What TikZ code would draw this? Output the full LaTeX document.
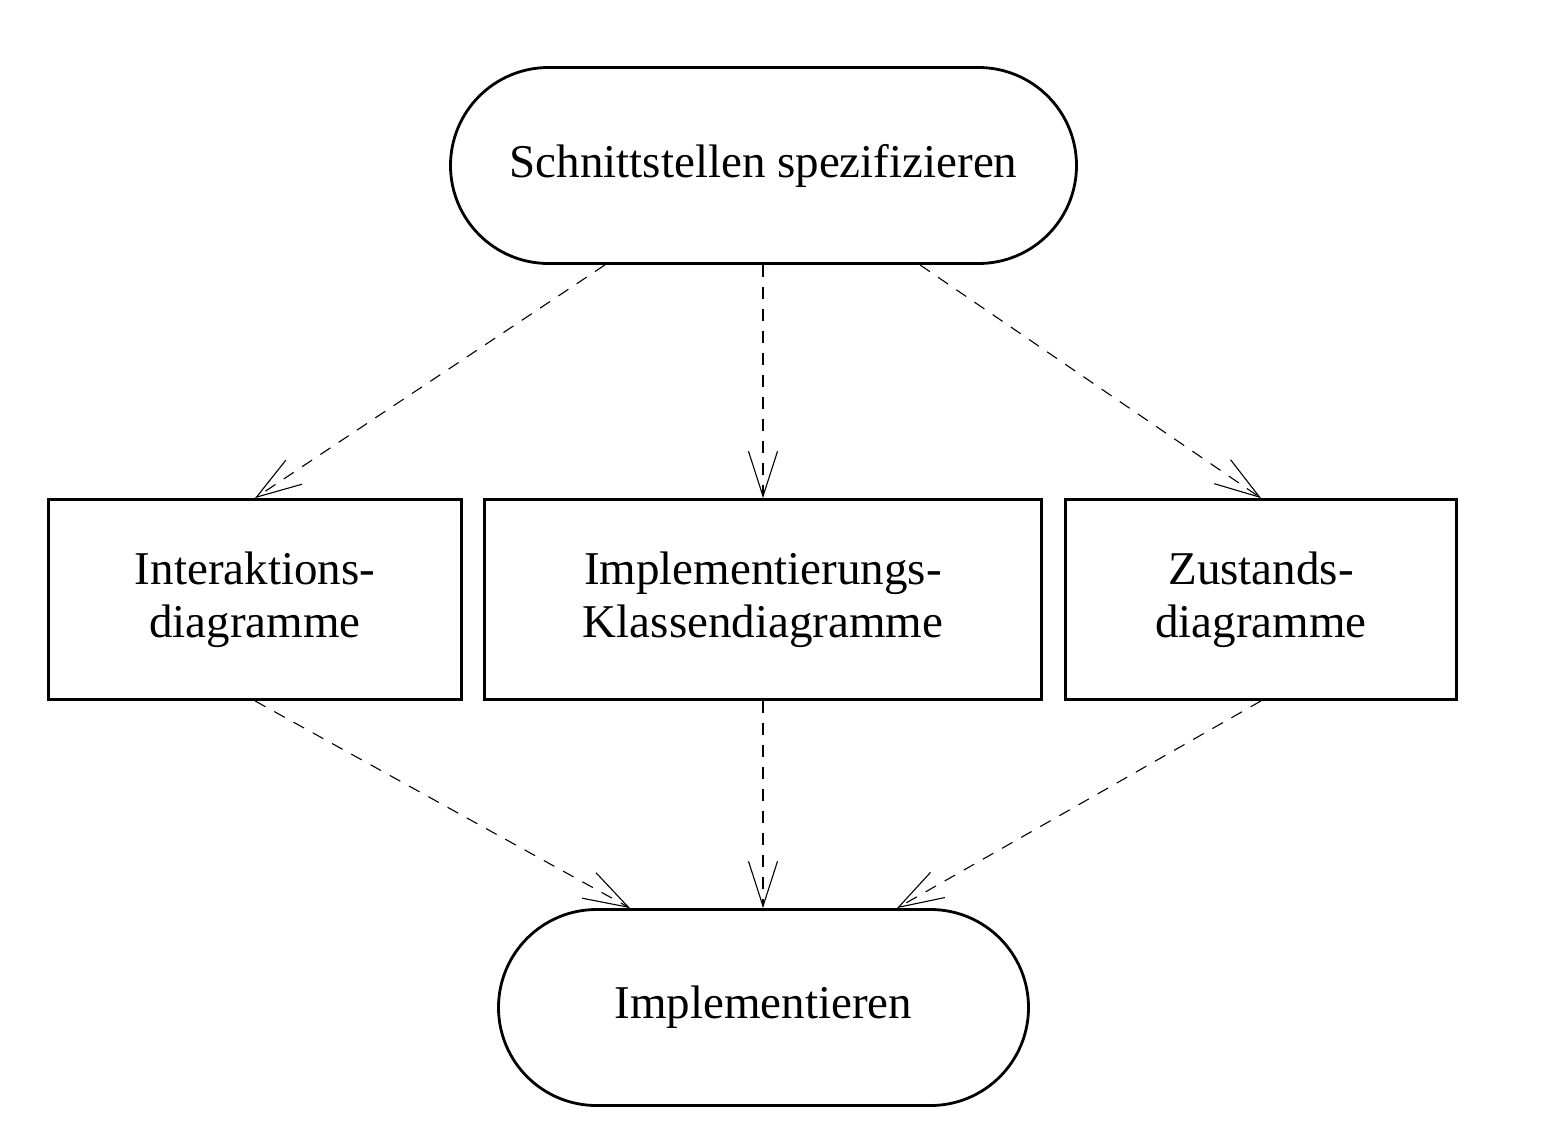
\documentclass[tikz,border=0pt]{standalone}
\usepackage{fontspec}
\setmainfont{Liberation Serif}
\usetikzlibrary{arrows.meta,calc}
\begin{document}
\begin{tikzpicture}[x=1pt,y=-1pt,
  every node/.style={font=\fontsize{47}{53}\selectfont, align=center, inner sep=0pt, line width=2.8pt},
  stadium/.style={draw, rounded corners=98pt, minimum height=196pt},
  box/.style={draw, minimum height=200pt},
  flow/.style={line width=1.1pt, dash pattern=on 12pt off 10pt, -{Straight Barb[length=45pt,width=29pt]}}]
\useasboundingbox (0,0) rectangle (1547,1122);
\node[stadium, minimum width=626pt] (top) at (763.5,165.5) {Schnittstellen spezifizieren};
\node[box, minimum width=413pt] (left) at (255,599.5) {Interaktions-\\diagramme};
\node[box, minimum width=557pt] (mid) at (763,599.5) {Implementierungs-\\Klassendiagramme};
\node[box, minimum width=391pt] (right) at (1261,599.5) {Zustands-\\diagramme};
\node[stadium, minimum width=530pt] (bot) at (763.5,1007.5) {Implementieren};
\draw[flow] ($(top.south)+(-158.5,0)$) -- (left.north);
\draw[flow] (top.south -| mid.north) -- (mid.north);
\draw[flow] ($(top.south)+(156.5,0)$) -- (right.north);
\draw[flow] (left.south) -- ($(bot.north)+(-133.5,0)$);
\draw[flow] (mid.south) -- (mid.south |- bot.north);
\draw[flow] (right.south) -- ($(bot.north)+(133.5,0)$);
\end{tikzpicture}
\end{document}
